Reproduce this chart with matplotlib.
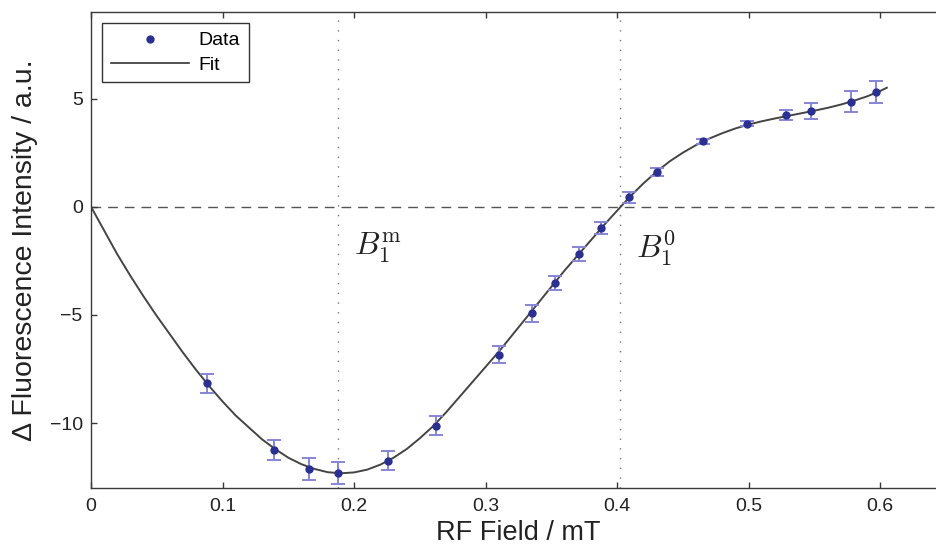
import matplotlib
matplotlib.use("Agg")
import matplotlib.pyplot as plt
from matplotlib.lines import Line2D

plt.rcParams['font.family'] = ['Liberation Sans', 'DejaVu Sans']
plt.rcParams['mathtext.fontset'] = 'cm'

# Measured data
rf_field = [0.088, 0.139, 0.166, 0.188, 0.226, 0.262, 0.310, 0.335, 0.353, 0.371,
            0.388, 0.409, 0.430, 0.465, 0.499, 0.528, 0.547, 0.578, 0.597]
delta_fl = [-8.17, -11.24, -12.11, -12.31, -11.73, -10.12, -6.83, -4.92, -3.52, -2.20,
            -0.99, 0.43, 1.61, 3.03, 3.84, 4.25, 4.43, 4.86, 5.29]
err = [0.42, 0.46, 0.50, 0.50, 0.46, 0.44, 0.41, 0.40, 0.32, 0.32,
       0.28, 0.27, 0.18, 0.12, 0.10, 0.23, 0.36, 0.47, 0.50]

# Fit curve
fit_x = [0.00, 0.01, 0.02, 0.03, 0.04, 0.05, 0.06, 0.07, 0.08, 0.09, 0.10, 0.11, 0.12,
         0.13, 0.14, 0.15, 0.16, 0.17, 0.18, 0.19, 0.20, 0.21, 0.22, 0.23, 0.24, 0.25,
         0.26, 0.27, 0.28, 0.29, 0.30, 0.31, 0.32, 0.33, 0.34, 0.35, 0.36, 0.37, 0.38,
         0.39, 0.40, 0.41, 0.42, 0.43, 0.44, 0.45, 0.46, 0.47, 0.48, 0.49, 0.50, 0.51,
         0.52, 0.53, 0.54, 0.55, 0.56, 0.57, 0.58, 0.59, 0.60, 0.605]
fit_y = [0.0, -1.1, -2.2, -3.2, -4.15, -5.05, -5.9, -6.75, -7.55, -8.3, -9.0, -9.65, -10.2,
         -10.75, -11.2, -11.6, -11.9, -12.12, -12.27, -12.32, -12.28, -12.15, -11.92, -11.6,
         -11.2, -10.7, -10.15, -9.5, -8.8, -8.1, -7.4, -6.7, -5.95, -5.2, -4.45, -3.7, -2.95,
         -2.25, -1.55, -0.85, -0.18, 0.48, 1.08, 1.62, 2.1, 2.5, 2.85, 3.15, 3.4, 3.62, 3.8,
         3.95, 4.08, 4.2, 4.32, 4.44, 4.57, 4.72, 4.9, 5.1, 5.35, 5.5]

b1_m = 0.188
b1_0 = 0.402
xticks = [0, 0.1, 0.2, 0.3, 0.4, 0.5, 0.6]
xticklabels = ['0', '0.1', '0.2', '0.3', '0.4', '0.5', '0.6']
yticks = [-10, -5, 0, 5]

fig = plt.figure(figsize=(9.37, 5.52), dpi=100)
ax = fig.add_axes([91/937, 64/552, 855/937, 476/552])

spine_col = '#3a3a3a'
for s in ax.spines.values():
    s.set_color(spine_col)
    s.set_linewidth(1.0)
ax.spines['right'].set_visible(False)

ax.axhline(0, color='#555555', lw=1.0, ls=(0, (7, 5)), zorder=1)
ax.axvline(b1_m, color='#777777', lw=1.0, ls=(0, (1, 6)), zorder=1)
ax.axvline(b1_0, color='#777777', lw=1.0, ls=(0, (1, 6)), zorder=1)

ax.plot(fit_x, fit_y, color='#444444', lw=1.4, zorder=2)
ax.errorbar(rf_field, delta_fl, yerr=err, fmt='none', ecolor='#8585d5', elinewidth=1.4,
            capsize=5, capthick=1.4, zorder=3)
ax.plot(rf_field, delta_fl, 'o', color='#2a3090', ms=5, zorder=4)

ax.text(0.200, -1.9, r'$B_1^{\mathrm{m}}$', fontsize=23, va='center', ha='left', color='#222222')
ax.text(0.414, -1.9, r'$B_1^{0}$', fontsize=23, va='center', ha='left', color='#222222')

ax.set_xlim(0, 0.65)
ax.set_ylim(-13, 9)
ax.set_xticks(xticks)
ax.set_xticklabels(xticklabels)
ax.set_yticks(yticks)
ax.tick_params(direction='in', length=4, width=1, colors=spine_col, labelcolor='#222222',
               labelsize=14, top=True, right=False)
ax.tick_params(axis='x', pad=7)
ax.tick_params(axis='y', pad=6)

ax.set_xlabel('RF Field / mT', fontsize=19.5, color='#222222', labelpad=4)
ax.set_ylabel('\u0394 Fluorescence Intensity / a.u.', fontsize=20.5, color='#222222', labelpad=8)

handles = [Line2D([], [], ls='none', marker='o', color='#2a3090', ms=5),
           Line2D([], [], color='#333333', lw=1.2)]
leg = ax.legend(handles, ['Data', 'Fit'], loc='upper left', fontsize=14,
                bbox_to_anchor=(0.013, 0.977), handlelength=4.0, handletextpad=0.5,
                borderpad=0.45, labelspacing=0.35, fancybox=False, framealpha=1,
                edgecolor='#333333', borderaxespad=0)
leg.get_frame().set_linewidth(1.0)

fig.savefig('out.png', dpi=100)
